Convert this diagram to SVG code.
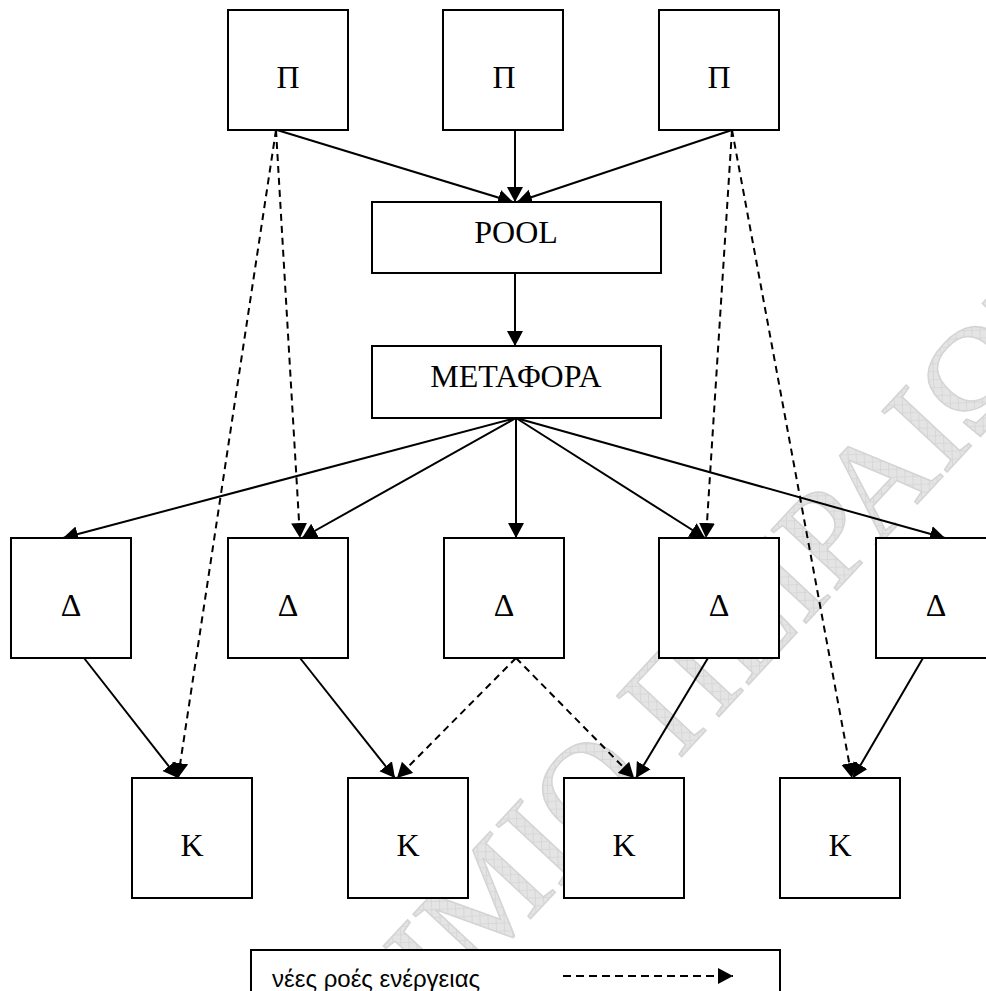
<svg xmlns="http://www.w3.org/2000/svg" width="986" height="991" viewBox="0 0 986 991">
<style>
.box{fill:#fff;stroke:#000;stroke-width:2}
.lbl{font-family:"Liberation Serif","Times New Roman",serif;font-size:32px;text-anchor:middle;fill:#000}
.ln{fill:none;stroke:#000;stroke-width:2}
.dash{stroke-dasharray:7 5}
.wm{font-family:"Liberation Serif","Times New Roman",serif;font-size:136px;fill:url(#hatch);stroke:#d4d4d4;stroke-width:1.5}
</style>
<defs>
<marker id="ah" markerUnits="userSpaceOnUse" markerWidth="17" markerHeight="17" refX="15" refY="8" orient="auto" viewBox="0 0 17 16">
<path d="M0,0 L15,8 L0,16 z" fill="#000"/>
</marker>
<pattern id="hatch" patternUnits="userSpaceOnUse" width="8" height="8" patternTransform="rotate(45)">
<rect width="8" height="8" fill="#e4e4e4"/>
<path d="M0,0 H8 M0,0 V8" stroke="#cfcfcf" stroke-width="1.2"/>
</pattern>
</defs>
<rect width="986" height="991" fill="#fff"/>
<g id="watermark">
<text class="wm" transform="translate(520,930) rotate(-47)" text-anchor="middle">ΠΑΝΕΠΙΣΤΗΜΙΟ ΠΕΙΡΑΙΩΣ</text>
</g>
<g id="connectors">
<line class="ln" x1="277" y1="130" x2="513" y2="202" marker-end="url(#ah)"/>
<line class="ln" x1="515" y1="130" x2="515" y2="202" marker-end="url(#ah)"/>
<line class="ln" x1="732" y1="130" x2="517" y2="202" marker-end="url(#ah)"/>
<line class="ln" x1="515" y1="273" x2="515" y2="346" marker-end="url(#ah)"/>
<line class="ln" x1="516" y1="418" x2="63" y2="538" marker-end="url(#ah)"/>
<line class="ln" x1="516" y1="418" x2="302" y2="538" marker-end="url(#ah)"/>
<line class="ln" x1="516" y1="418" x2="516" y2="538" marker-end="url(#ah)"/>
<line class="ln" x1="516" y1="418" x2="705" y2="538" marker-end="url(#ah)"/>
<line class="ln" x1="516" y1="418" x2="945" y2="538" marker-end="url(#ah)"/>
<line class="ln" x1="84" y1="658" x2="178" y2="778" marker-end="url(#ah)"/>
<line class="ln" x1="300" y1="658" x2="395" y2="778" marker-end="url(#ah)"/>
<line class="ln" x1="708" y1="658" x2="636" y2="778" marker-end="url(#ah)"/>
<line class="ln" x1="923" y1="658" x2="853" y2="778" marker-end="url(#ah)"/>
<line class="ln dash" x1="276" y1="130" x2="300" y2="538" marker-end="url(#ah)"/>
<line class="ln dash" x1="276" y1="130" x2="178" y2="778" marker-end="url(#ah)"/>
<line class="ln dash" x1="732" y1="130" x2="706" y2="538" marker-end="url(#ah)"/>
<line class="ln dash" x1="732" y1="130" x2="852" y2="778" marker-end="url(#ah)"/>
<line class="ln dash" x1="516" y1="658" x2="397" y2="778" marker-end="url(#ah)"/>
<line class="ln dash" x1="516" y1="658" x2="634" y2="778" marker-end="url(#ah)"/>
</g>
<g id="p1"><rect class="box" x="228" y="10" width="120" height="120"/><text class="lbl" x="288" y="88">Π</text></g>
<g id="p2"><rect class="box" x="443" y="10" width="120" height="120"/><text class="lbl" x="504" y="88">Π</text></g>
<g id="p3"><rect class="box" x="659" y="10" width="120" height="120"/><text class="lbl" x="719" y="88">Π</text></g>
<g id="pool"><rect class="box" x="372" y="202" width="289" height="71"/><text class="lbl" x="516" y="243">POOL</text></g>
<g id="metafora"><rect class="box" x="372" y="346" width="289" height="72"/><text class="lbl" x="516" y="387">ΜΕΤΑΦΟΡΑ</text></g>
<g id="d1"><rect class="box" x="11" y="538" width="120" height="120"/><text class="lbl" x="71" y="616">Δ</text></g>
<g id="d2"><rect class="box" x="228" y="538" width="120" height="120"/><text class="lbl" x="288" y="616">Δ</text></g>
<g id="d3"><rect class="box" x="444" y="538" width="120" height="120"/><text class="lbl" x="504" y="616">Δ</text></g>
<g id="d4"><rect class="box" x="659" y="538" width="120" height="120"/><text class="lbl" x="719" y="616">Δ</text></g>
<g id="d5"><rect class="box" x="876" y="538" width="120" height="120"/><text class="lbl" x="936" y="616">Δ</text></g>
<g id="k1"><rect class="box" x="132" y="778" width="120" height="120"/><text class="lbl" x="192" y="856">Κ</text></g>
<g id="k2"><rect class="box" x="348" y="778" width="120" height="120"/><text class="lbl" x="408" y="856">Κ</text></g>
<g id="k3"><rect class="box" x="564" y="778" width="120" height="120"/><text class="lbl" x="624" y="856">Κ</text></g>
<g id="k4"><rect class="box" x="780" y="778" width="120" height="120"/><text class="lbl" x="840" y="856">Κ</text></g>
<g id="legend">
<rect class="box" x="251" y="950" width="529" height="60"/>
<text x="272" y="987" font-family="'Liberation Sans',Arial,sans-serif" font-size="24" fill="#000">νέες ροές ενέργειας</text>
<line class="ln" x1="563" y1="976" x2="733" y2="976" stroke-dasharray="8 5" marker-end="url(#ah)"/>
</g>
</svg>
